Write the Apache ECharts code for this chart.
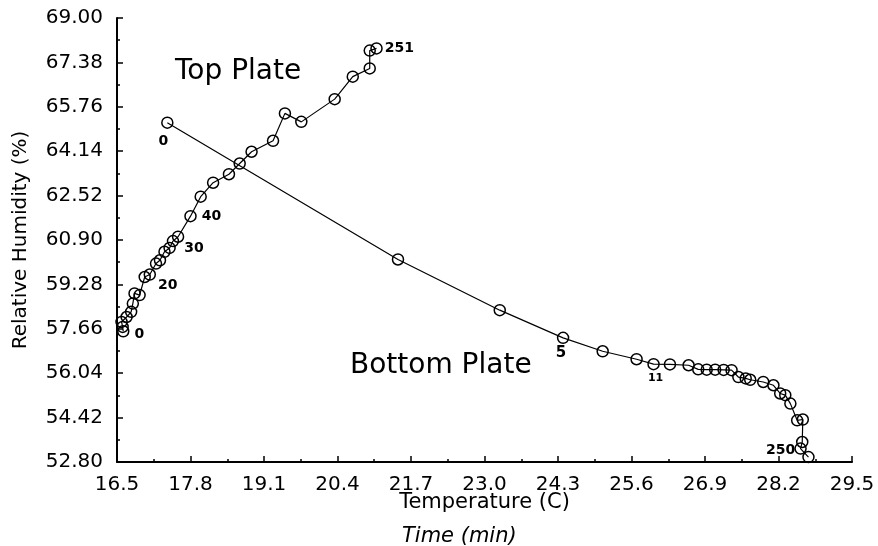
<!DOCTYPE html>
<html>
<head>
<meta charset="utf-8">
<script src="https://cdn.jsdelivr.net/npm/echarts@6/dist/echarts.min.js"></script>
<style>
  html, body { margin: 0; padding: 0; background: #fff; }
  #chart { width: 878px; height: 546px; }
</style>
</head>
<body>
<div id="chart"></div>
<script>
// Top plate: temperature (C) and relative humidity (%), in time order
const topTemp = [16.61, 16.60, 16.58, 16.67, 16.75, 16.78, 16.81, 16.90, 16.99, 17.08,
                 17.19, 17.26, 17.34, 17.43, 17.49, 17.58, 17.80, 17.98, 18.20, 18.48,
                 18.67, 18.88, 19.26, 19.47, 19.76, 20.35, 20.67, 20.97, 20.97, 21.09];
const topRH   = [57.57, 57.73, 57.91, 58.09, 58.28, 58.58, 58.95, 58.89, 59.55, 59.64,
                 60.04, 60.16, 60.47, 60.61, 60.86, 61.02, 61.77, 62.48, 62.99, 63.30,
                 63.69, 64.12, 64.52, 65.52, 65.21, 66.04, 66.86, 67.16, 67.81, 67.89];

// Bottom plate: temperature (C) and relative humidity (%), in time order
const bottomTemp = [17.39, 21.47, 23.27, 24.39, 25.09, 25.69, 25.99, 26.28, 26.61, 26.78,
                    26.93, 27.08, 27.23, 27.37, 27.49, 27.62, 27.70, 27.93, 28.11, 28.23,
                    28.32, 28.41, 28.53, 28.63, 28.62, 28.59, 28.73];
const bottomRH   = [65.18, 60.19, 58.34, 57.33, 56.84, 56.55, 56.37, 56.36, 56.33, 56.18,
                    56.17, 56.17, 56.16, 56.15, 55.90, 55.85, 55.80, 55.72, 55.60, 55.30,
                    55.24, 54.93, 54.32, 54.35, 53.53, 53.29, 52.98];

// Elapsed-time notes (min) written beside selected points
const topNoteIndex = [0, 8, 14, 16, 29];
const topNoteText  = ['0', '20', '30', '40', '251'];
const bottomNoteIndex = [0, 3, 6, 25];
const bottomNoteText  = ['0', '5', '11', '250'];

// Axis ranges and tick steps
const xMin = 16.5, xMax = 29.5, xStep = 1.3;
const yMin = 52.8, yMax = 69.0, yStep = 1.62;

const FONT = 'DejaVu Sans';
const noteStyle = { color: '#000', fontFamily: FONT, fontWeight: 'bold', fontSize: 14 };

const topNoteLayout = {
  0: { position: 'right', offset: [0, 3] },
  8: { position: 'right', offset: [2, 8] },
  14: { position: 'right', offset: [0, 7] },
  16: { position: 'right', offset: [0, 0] },
  29: { position: 'right', offset: [-3, 0] }
};
const bottomNoteLayout = {
  0: { position: 'bottom', offset: [-4, 0] },
  3: { position: 'bottom', offset: [-2, -3], fontSize: 15 },
  6: { position: 'bottom', offset: [2, -3], fontSize: 11 },
  25: { position: 'left', offset: [6, 2] }
};

function buildData(xs, ys, noteIdx, noteTxt, layout) {
  return xs.map((x, i) => {
    const item = { value: [x, ys[i]] };
    const k = noteIdx.indexOf(i);
    if (k >= 0) {
      const l = layout[i] || {};
      item.label = Object.assign({ show: true, formatter: noteTxt[k] }, noteStyle, l);
    }
    return item;
  });
}

const chart = echarts.init(document.getElementById('chart'), null, { renderer: 'canvas' });

const axisLineStyle = { color: '#000', width: 2 };
const markerStyle = { color: 'rgba(255,255,255,0)', borderColor: '#000', borderWidth: 1.5 };

chart.setOption({
  backgroundColor: '#fff',
  animation: false,
  grid: { left: 117, right: 26, top: 18, bottom: 84, containLabel: false, outerBoundsMode: 'none' },
  xAxis: {
    type: 'value',
    min: xMin, max: xMax, interval: xStep,
    name: 'Temperature (C)',
    nameLocation: 'middle',
    nameGap: 30,
    nameMoveOverlap: false,
    nameTextStyle: { color: '#000', fontFamily: FONT, fontSize: 21 },
    axisLine: { show: true, onZero: false, lineStyle: axisLineStyle },
    axisTick: { show: true, inside: true, length: 6, lineStyle: { color: '#000', width: 1.5 } },
    minorTick: { show: true, splitNumber: 2, length: 3, lineStyle: { color: '#000', width: 1.5 } },
    splitLine: { show: false },
    axisLabel: {
      color: '#000', fontFamily: FONT, fontSize: 20, margin: 13,
      formatter: v => v.toFixed(1)
    }
  },
  yAxis: {
    type: 'value',
    min: yMin, max: yMax, interval: yStep,
    name: 'Relative Humidity (%)',
    nameLocation: 'middle',
    nameGap: 86,
    nameMoveOverlap: false,
    nameRotate: 90,
    nameTextStyle: { color: '#000', fontFamily: FONT, fontSize: 20 },
    axisLine: { show: true, onZero: false, lineStyle: axisLineStyle },
    axisTick: { show: true, inside: true, length: 6, lineStyle: { color: '#000', width: 1.5 } },
    minorTick: { show: true, splitNumber: 2, length: 3, lineStyle: { color: '#000', width: 1.5 } },
    splitLine: { show: false },
    axisLabel: {
      color: '#000', fontFamily: FONT, fontSize: 20, margin: 14,
      formatter: v => v.toFixed(2)
    }
  },
  series: [
    {
      name: 'Top Plate',
      type: 'line',
      data: buildData(topTemp, topRH, topNoteIndex, topNoteText, topNoteLayout),
      symbol: 'circle',
      symbolSize: 11,
      showAllSymbol: true,
      clip: false,
      lineStyle: { color: '#000', width: 1.2 },
      itemStyle: markerStyle,
      z: 3
    },
    {
      name: 'Bottom Plate',
      type: 'line',
      data: buildData(bottomTemp, bottomRH, bottomNoteIndex, bottomNoteText, bottomNoteLayout),
      symbol: 'circle',
      symbolSize: 11,
      showAllSymbol: true,
      clip: false,
      lineStyle: { color: '#000', width: 1.2 },
      itemStyle: markerStyle,
      z: 2
    }
  ],
  graphic: [
    {
      type: 'text', left: 175, top: 58,
      style: { text: 'Top Plate', fill: '#000', font: '28px "DejaVu Sans"' }
    },
    {
      type: 'text', left: 350, top: 352,
      style: { text: 'Bottom Plate', fill: '#000', font: '28px "DejaVu Sans"' }
    },
    {
      type: 'text', left: 402, top: 526,
      style: { text: 'Time (min)', fill: '#000', font: 'italic 21px "DejaVu Sans"' }
    }
  ]
});
</script>
</body>
</html>
